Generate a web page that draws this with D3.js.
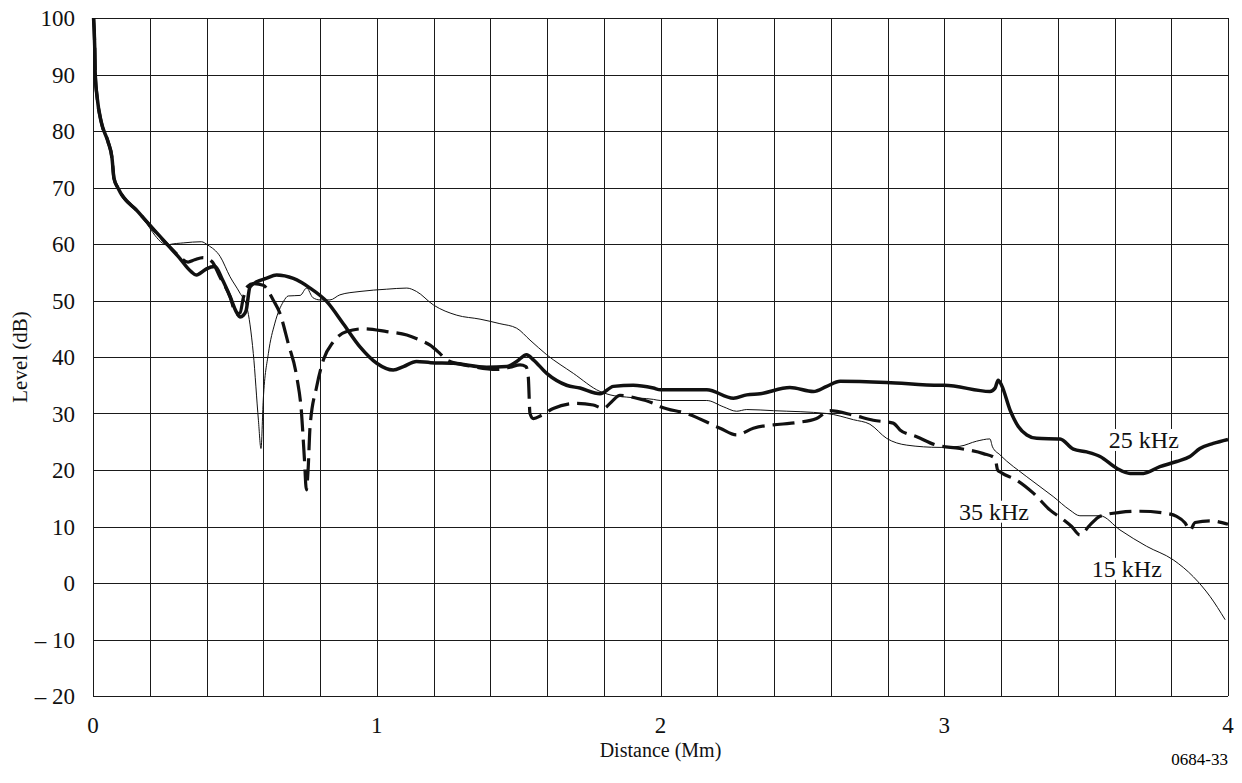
<!DOCTYPE html>
<html lang="en">
<head>
    <meta charset="UTF-8">
    <title>Level vs distance</title>
    <script src="https://d3js.org/d3.v7.min.js"></script>
    <style>
        body {
            margin: 0;
            background: #fff;
            font-family: "Liberation Serif", "Times New Roman", serif;
        }
        .grid line {
            stroke: #1a1a1a;
            stroke-width: 1;
        }
        .tick-label {
            font-size: 23px;
            fill: #111;
        }
        .axis-title {
            font-size: 20px;
            fill: #111;
        }
        .series-label {
            font-size: 24px;
            fill: #111;
        }
    </style>
</head>
<body>
    <div id="chart"></div>

    <script>
        // x ticks (Mm) and y ticks (dB)
        const xTicks = [0, 1, 2, 3, 4];
        const yTicks = [100, 90, 80, 70, 60, 50, 40, 30, 20, 10, 0, -10, -20];
        const yTickLabels = ["100", "90", "80", "70", "60", "50", "40", "30", "20", "10", "0", "\u2013 10", "\u2013 20"];

        // common start of all three curves (distance Mm, level dB)
        const startPart = [
            [0.002, 100], [0.006, 95], [0.008, 90], [0.015, 85.8], [0.029, 81.6], [0.053, 78.1],
            [0.067, 75.2], [0.074, 71.6], [0.088, 69.9], [0.159, 65.7], [0.264, 59.8]
        ];

        const khz25 = startPart.concat([
            [0.30, 57.8], [0.346, 55.1], [0.364, 54.5], [0.377, 54.8], [0.40, 55.6], [0.43, 56.0],
            [0.455, 53.8], [0.483, 50.7], [0.505, 48.0], [0.518, 47.1], [0.53, 47.4], [0.54, 48.3],
            [0.553, 52.4], [0.577, 53.3], [0.61, 53.9], [0.647, 54.5], [0.706, 53.9], [0.765, 52.2],
            [0.824, 49.8], [0.882, 45.9], [0.941, 41.8], [1.0, 38.9], [1.058, 37.7], [1.094, 38.3],
            [1.14, 39.2], [1.19, 39.0], [1.27, 38.9], [1.387, 38.2], [1.458, 38.3], [1.493, 39.2],
            [1.528, 40.4], [1.552, 39.5], [1.599, 37.1], [1.669, 35.0], [1.716, 34.5], [1.787, 33.5],
            [1.834, 34.8], [1.904, 35.0], [1.975, 34.5], [2.0, 34.2], [2.163, 34.2], [2.257, 32.7],
            [2.304, 33.3], [2.351, 33.5], [2.456, 34.6], [2.539, 33.9], [2.586, 34.8], [2.633, 35.7],
            [2.797, 35.5], [2.985, 35.0], [3.0, 35.0], [3.161, 33.9], [3.179, 34.5], [3.19, 35.9],
            [3.202, 35.0], [3.232, 30.6], [3.261, 27.7], [3.291, 26.2], [3.326, 25.6], [3.408, 25.5],
            [3.455, 23.7], [3.502, 23.2], [3.549, 22.4], [3.608, 20.3], [3.655, 19.4], [3.702, 19.4],
            [3.76, 20.6], [3.819, 21.5], [3.866, 22.4], [3.901, 23.8], [3.948, 24.7], [4.0, 25.4]
        ]);

        const khz15 = startPart.concat([
            [0.27, 59.9], [0.32, 60.2], [0.382, 60.4], [0.405, 59.8], [0.448, 57.8], [0.483, 54.2],
            [0.518, 51.3], [0.542, 48.9], [0.565, 40.6], [0.583, 28.8], [0.592, 23.8], [0.6, 32.4],
            [0.618, 40.6], [0.641, 46.0], [0.671, 49.8], [0.688, 50.8], [0.73, 50.9], [0.753, 52.2],
            [0.775, 50.5], [0.8, 50.1], [0.835, 50.1], [0.87, 51.0], [0.941, 51.6], [1.035, 52.0],
            [1.106, 52.2], [1.14, 51.6], [1.2, 49.2], [1.282, 47.4], [1.364, 46.7], [1.434, 45.9],
            [1.493, 45.1], [1.54, 43.0], [1.599, 40.4], [1.693, 37.1], [1.787, 33.9], [1.822, 33.3],
            [1.881, 32.9], [1.975, 32.5], [2.0, 32.3], [2.163, 32.3], [2.221, 31.2], [2.268, 30.4],
            [2.304, 30.7], [2.398, 30.5], [2.586, 30.0], [2.68, 28.9], [2.738, 28.1], [2.797, 25.6],
            [2.868, 24.4], [2.985, 24.0], [3.055, 24.2], [3.114, 25.1], [3.161, 25.5], [3.17, 24.1],
            [3.196, 22.7], [3.291, 18.8], [3.384, 15.3], [3.443, 12.9], [3.478, 11.9], [3.549, 11.9],
            [3.619, 9.4], [3.713, 6.5], [3.807, 4.1], [3.878, 1.1], [3.937, -2.4], [3.99, -6.5]
        ]);

        const khz35 = startPart.concat([
            [0.276, 59.2], [0.30, 58.0], [0.335, 56.8], [0.358, 57.2], [0.388, 57.6], [0.419, 56.9],
            [0.447, 54.2], [0.483, 50.7], [0.505, 47.6], [0.518, 47.8], [0.53, 50.5], [0.545, 52.5],
            [0.565, 53.0], [0.6, 52.7], [0.635, 50.1], [0.659, 47.7], [0.688, 42.4], [0.718, 36.5],
            [0.735, 30.0], [0.745, 22.0], [0.752, 16.5], [0.758, 20.0], [0.765, 27.7], [0.788, 34.7],
            [0.812, 39.5], [0.847, 42.7], [0.894, 44.5], [0.953, 45.0], [1.035, 44.5], [1.106, 43.9],
            [1.152, 43.0], [1.188, 42.1], [1.223, 40.6], [1.246, 39.5], [1.329, 38.4], [1.423, 37.8],
            [1.47, 38.2], [1.505, 38.6], [1.526, 38.3], [1.534, 36.5], [1.54, 30.0], [1.552, 29.1],
            [1.581, 29.7], [1.622, 30.9], [1.705, 31.8], [1.763, 31.5], [1.799, 30.9], [1.828, 32.1],
            [1.857, 33.2], [1.916, 32.7], [1.975, 31.8], [2.0, 31.2], [2.093, 30.0], [2.21, 27.4],
            [2.268, 26.2], [2.327, 27.4], [2.421, 28.1], [2.48, 28.4], [2.55, 29.1], [2.597, 30.5],
            [2.68, 29.7], [2.75, 28.8], [2.82, 28.3], [2.844, 27.1], [2.903, 25.9], [2.972, 24.4],
            [3.055, 23.8], [3.138, 22.9], [3.179, 22.1], [3.188, 20.0], [3.202, 19.5], [3.255, 18.2],
            [3.314, 15.9], [3.373, 12.9], [3.42, 11.2], [3.449, 10.0], [3.478, 8.5], [3.514, 10.3],
            [3.549, 11.8], [3.619, 12.5], [3.69, 12.7], [3.772, 12.4], [3.819, 11.8], [3.849, 10.6],
            [3.866, 9.3], [3.884, 10.7], [3.937, 11.0], [4.0, 10.4]
        ]);

        // curve labels, anchored in data units
        const seriesLabels = [
            { text: "25 kHz", x: 3.58, y: 23.9 },
            { text: "35 kHz", x: 3.052, y: 11.2 },
            { text: "15 kHz", x: 3.52, y: 1.1 }
        ];

        const width = 1242, height = 783;
        const margin = { top: 18, right: 14, bottom: 87, left: 93 };

        const svg = d3.select("#chart").append("svg")
            .attr("width", width)
            .attr("height", height)
            .style("display", "block");

        svg.append("rect").attr("width", width).attr("height", height).attr("fill", "#fff");

        const x = d3.scaleLinear().domain([0, 4]).range([margin.left, width - margin.right]);
        const y = d3.scaleLinear().domain([-20, 100]).range([height - margin.bottom, margin.top]);

        // grid: every 0.2 Mm and every 10 dB
        const grid = svg.append("g").attr("class", "grid");
        grid.selectAll(".v")
            .data(d3.range(0, 21).map(i => i * 0.2))
            .enter().append("line")
            .attr("x1", d => Math.round(x(d)) + 0.5)
            .attr("x2", d => Math.round(x(d)) + 0.5)
            .attr("y1", y(100))
            .attr("y2", y(-20));
        grid.selectAll(".h")
            .data(yTicks)
            .enter().append("line")
            .attr("x1", x(0))
            .attr("x2", x(4))
            .attr("y1", d => Math.round(y(d)) + 0.5)
            .attr("y2", d => Math.round(y(d)) + 0.5);

        // tick labels
        svg.selectAll(".ylab")
            .data(yTicks)
            .enter().append("text")
            .attr("class", "tick-label")
            .attr("x", x(0) - 18)
            .attr("y", d => y(d))
            .attr("dy", "0.35em")
            .attr("text-anchor", "end")
            .text((d, i) => yTickLabels[i]);

        svg.selectAll(".xlab")
            .data(xTicks)
            .enter().append("text")
            .attr("class", "tick-label")
            .attr("x", d => x(d))
            .attr("y", y(-20) + 37)
            .attr("text-anchor", "middle")
            .text(d => d);

        // axis titles
        svg.append("text")
            .attr("class", "axis-title")
            .attr("transform", `translate(27, ${y(40)}) rotate(-90)`)
            .attr("text-anchor", "middle")
            .style("font-size", "21px")
            .text("Level (dB)");

        svg.append("text")
            .attr("class", "axis-title")
            .attr("x", x(2))
            .attr("y", height - 26)
            .attr("text-anchor", "middle")
            .text("Distance (Mm)");

        svg.append("text")
            .attr("x", x(4))
            .attr("y", height - 18)
            .attr("text-anchor", "end")
            .style("font-size", "17px")
            .text("0684-33");

        // curves
        const line = d3.line()
            .x(d => x(d[0]))
            .y(d => y(d[1]))
            .curve(d3.curveMonotoneX);

        svg.append("path")
            .datum(khz15)
            .attr("fill", "none")
            .attr("stroke", "#111")
            .attr("stroke-width", 1)
            .attr("d", line);

        svg.append("path")
            .datum(khz35)
            .attr("fill", "none")
            .attr("stroke", "#111")
            .attr("stroke-width", 3.2)
            .attr("stroke-dasharray", "22,8")
            .attr("d", line);

        svg.append("path")
            .datum(khz25)
            .attr("fill", "none")
            .attr("stroke", "#111")
            .attr("stroke-width", 3.5)
            .attr("stroke-linejoin", "round")
            .attr("d", line);

        // curve labels with white boxes that cut the grid
        const labels = svg.selectAll(".series")
            .data(seriesLabels)
            .enter().append("g");

        labels.append("text")
            .attr("class", "series-label")
            .attr("x", d => x(d.x))
            .attr("y", d => y(d.y))
            .text(d => d.text);

        labels.each(function() {
            const g = d3.select(this);
            const bb = g.select("text").node().getBBox();
            g.insert("rect", "text")
                .attr("x", bb.x - 2)
                .attr("y", bb.y + 2)
                .attr("width", bb.width + 4)
                .attr("height", bb.height - 4)
                .attr("fill", "#fff");
        });
    </script>
</body>
</html>
